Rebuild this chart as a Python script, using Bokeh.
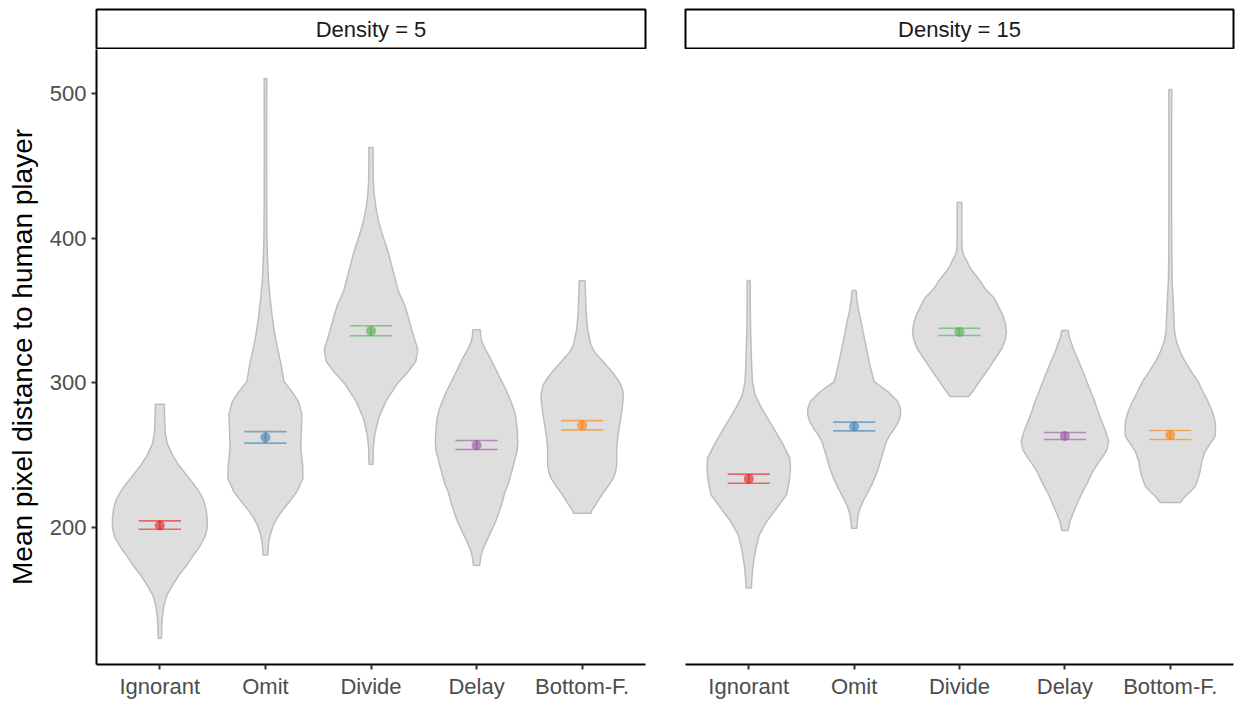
from bokeh.plotting import figure
from bokeh.models import Range1d, FixedTicker, ColumnDataSource
from bokeh.layouts import row, column
from bokeh.embed import file_html
from bokeh.resources import INLINE
from bokeh.core.properties import value

# ---------------- data ----------------
categories = ["Ignorant", "Omit", "Divide", "Delay", "Bottom-F."]
panel_labels = ["Density = 5", "Density = 15"]
colors = ["#E41A1C", "#377EB8", "#4DAF4A", "#984EA3", "#FF7F00"]
y_ticks = [200, 300, 400, 500]
y_title = "Mean pixel distance to human player"

# Violin outlines: values (top -> bottom) and half widths (category units)
d5_ignorant_v = [285.2, 275, 265, 258, 250, 243, 237, 231, 225, 219, 212, 205, 199, 193, 186, 180, 173, 167, 160, 153, 145, 137, 130, 123.5]
d5_ignorant_w = [0.042, 0.045, 0.052, 0.07, 0.12, 0.18, 0.245, 0.31, 0.37, 0.415, 0.44, 0.45, 0.447, 0.425, 0.37, 0.31, 0.245, 0.18, 0.12, 0.065, 0.035, 0.022, 0.018, 0.016]
d5_omit_v = [510.3, 480, 450, 420, 400, 385, 370, 358, 345, 333, 322, 312, 301, 294, 287, 278, 266, 255, 243, 234, 225, 219, 213, 207, 202, 196, 190, 181]
d5_omit_w = [0.012, 0.011, 0.011, 0.012, 0.014, 0.02, 0.03, 0.045, 0.065, 0.09, 0.12, 0.15, 0.175, 0.25, 0.314, 0.346, 0.34, 0.335, 0.352, 0.356, 0.3, 0.24, 0.173, 0.115, 0.078, 0.05, 0.031, 0.022]
d5_divide_v = [462.6, 450, 440, 430, 422, 412, 402, 391, 377, 363, 354, 345, 333, 323, 315, 308, 299, 287, 275.5, 264, 255, 243.7]
d5_divide_w = [0.02, 0.02, 0.022, 0.03, 0.045, 0.07, 0.11, 0.16, 0.21, 0.26, 0.318, 0.355, 0.40, 0.443, 0.425, 0.355, 0.245, 0.14, 0.072, 0.035, 0.022, 0.019]
d5_delay_v = [336.6, 332, 328.5, 323, 317, 311, 305.5, 300, 294, 288, 282.4, 277, 271, 265, 259.4, 253, 247.9, 242, 236.4, 230, 224.9, 218, 211, 204, 197, 190, 184, 179, 173.7]
d5_delay_w = [0.035, 0.04, 0.05, 0.085, 0.13, 0.17, 0.207, 0.245, 0.286, 0.32, 0.35, 0.37, 0.38, 0.387, 0.39, 0.385, 0.365, 0.345, 0.324, 0.30, 0.27, 0.245, 0.215, 0.18, 0.135, 0.09, 0.055, 0.038, 0.03]
d5_bottomf_v = [370.5, 360, 349.3, 337.7, 326.3, 321, 317, 312, 307.8, 303, 298.6, 294, 289.4, 280.2, 268.6, 261, 254.8, 243.3, 238, 234.1, 228, 222.6, 216, 211.1, 209.9]
d5_bottomf_w = [0.028, 0.032, 0.038, 0.05, 0.082, 0.12, 0.17, 0.23, 0.28, 0.33, 0.368, 0.385, 0.39, 0.375, 0.35, 0.335, 0.327, 0.327, 0.315, 0.295, 0.24, 0.186, 0.13, 0.085, 0.085]

d15_ignorant_v = [370.7, 350, 335, 318, 307.8, 300.9, 291.7, 282.4, 271, 259.4, 247.9, 241, 236, 231.8, 222.6, 213.3, 204.1, 194.9, 185.7, 178, 171.9, 165, 158.1]
d15_ignorant_w = [0.014, 0.015, 0.018, 0.025, 0.03, 0.035, 0.06, 0.123, 0.217, 0.311, 0.39, 0.396, 0.39, 0.384, 0.358, 0.264, 0.17, 0.10, 0.069, 0.05, 0.038, 0.03, 0.025]
d15_omit_v = [363.8, 356.2, 349, 342.4, 335, 328.5, 321, 314.7, 307.8, 300.9, 294, 287.1, 282, 277.9, 273, 268.6, 264, 259.4, 247.9, 241, 234.1, 227, 220.2, 214, 208.8, 204, 199.5]
d15_omit_w = [0.019, 0.028, 0.045, 0.066, 0.085, 0.104, 0.125, 0.142, 0.165, 0.189, 0.32, 0.415, 0.44, 0.44, 0.42, 0.384, 0.34, 0.305, 0.258, 0.23, 0.195, 0.15, 0.10, 0.06, 0.038, 0.03, 0.025]
d15_divide_v = [424.6, 410, 400, 393, 389, 386.1, 381, 376.9, 370, 365.4, 358.5, 352, 347, 341, 335.5, 330, 323.9, 318, 312.4, 306, 300.9, 295, 290.5]
d15_divide_w = [0.022, 0.022, 0.022, 0.024, 0.035, 0.057, 0.09, 0.126, 0.2, 0.24, 0.33, 0.375, 0.409, 0.435, 0.446, 0.435, 0.403, 0.35, 0.299, 0.24, 0.189, 0.135, 0.088]
d15_delay_v = [336.1, 332, 328.5, 321, 314.7, 308, 300.9, 294, 287.1, 280, 273.3, 266, 259.4, 254, 249, 244, 238.7, 231, 224.9, 218, 211, 204.1, 198]
d15_delay_w = [0.03, 0.04, 0.057, 0.095, 0.132, 0.17, 0.208, 0.245, 0.283, 0.315, 0.35, 0.39, 0.415, 0.4, 0.36, 0.31, 0.264, 0.215, 0.17, 0.125, 0.085, 0.047, 0.03]
d15_bottomf_v = [502.7, 480, 450, 420, 390, 370, 356, 345, 335.5, 328, 321.6, 316, 311.3, 306, 300.9, 294, 287.1, 280, 273.3, 268, 262.9, 257, 252.5, 246, 238.7, 233, 228.3, 224, 221.4, 217.3]
d15_bottomf_w = [0.014, 0.013, 0.013, 0.013, 0.014, 0.018, 0.028, 0.035, 0.04, 0.06, 0.094, 0.13, 0.17, 0.215, 0.264, 0.31, 0.358, 0.4, 0.425, 0.43, 0.425, 0.37, 0.33, 0.3, 0.283, 0.26, 0.236, 0.18, 0.14, 0.094]

# Means and confidence intervals
d5_mean = [201.4, 262.2, 335.9, 256.9, 270.7]
d5_lo = [198.8, 258.3, 332.5, 253.9, 267.5]
d5_hi = [204.6, 266.3, 339.4, 260.1, 273.9]
d15_mean = [233.6, 269.8, 335.2, 263.2, 263.9]
d15_lo = [230.6, 266.8, 332.7, 260.8, 260.8]
d15_hi = [236.9, 272.8, 337.7, 265.7, 267.0]

d5_profiles = [(d5_ignorant_v, d5_ignorant_w), (d5_omit_v, d5_omit_w), (d5_divide_v, d5_divide_w),
               (d5_delay_v, d5_delay_w), (d5_bottomf_v, d5_bottomf_w)]
d15_profiles = [(d15_ignorant_v, d15_ignorant_w), (d15_omit_v, d15_omit_w), (d15_divide_v, d15_divide_w),
                (d15_delay_v, d15_delay_w), (d15_bottomf_v, d15_bottomf_w)]

# ---------------- layout constants ----------------
Y_RANGE = (105.3, 530.4)
FRAME_W = 549
FONT = "Liberation Sans"


def make_panel(label, profiles, means, lo, hi, left_border, right_border, frame_w, show_y):
    width = left_border + frame_w + right_border
    # strip
    s = figure(width=width, height=49, output_backend="svg", toolbar_location=None,
               x_range=Range1d(0, 1), y_range=Range1d(0, 1),
               x_axis_location=None, y_axis_location=None,
               min_border_left=left_border, min_border_right=right_border,
               min_border_top=9, min_border_bottom=1)
    s.grid.visible = False
    s.outline_line_color = "black"
    s.outline_line_width = 2
    s.background_fill_color = "white"
    s.text(x=[0.5], y=[0.5], text=[label], text_align="center", text_baseline="middle",
           text_font=value(FONT), text_font_size="22px", text_color="#1A1A1A")

    p = figure(width=width, height=652, output_backend="svg", toolbar_location=None,
               x_range=Range1d(0.4, 5.6), y_range=Range1d(*Y_RANGE),
               y_axis_location="left" if show_y else None,
               min_border_left=left_border, min_border_right=right_border,
               min_border_top=0, min_border_bottom=30)
    p.grid.visible = False
    p.outline_line_color = None

    xs, ys = [], []
    for i, (vals, ws) in enumerate(profiles):
        c = i + 1
        xs.append([c - w for w in ws] + [c + w for w in reversed(ws)])
        ys.append(list(vals) + list(reversed(vals)))
    p.patches(xs="xs", ys="ys", source=ColumnDataSource(dict(xs=xs, ys=ys)),
              fill_color="#DEDEDE", line_color="#BDBDBD", line_width=1.5)

    pos = [i + 1 for i in range(len(categories))]
    src = ColumnDataSource(dict(x=pos, x0=[c - 0.2 for c in pos], x1=[c + 0.2 for c in pos],
                                m=means, lo=lo, hi=hi, color=colors))
    p.segment(x0="x0", x1="x1", y0="lo", y1="lo", source=src, line_color="color", line_width=1.6, line_alpha=0.6)
    p.segment(x0="x0", x1="x1", y0="hi", y1="hi", source=src, line_color="color", line_width=1.6, line_alpha=0.6)
    p.segment(x0="x", x1="x", y0="lo", y1="hi", source=src, line_color="color", line_width=1.6, line_alpha=0.6)
    p.scatter(x="x", y="m", source=src, size=10, fill_color="color", fill_alpha=0.6, line_color=None)

    xa = p.xaxis[0]
    xa.ticker = FixedTicker(ticks=pos)
    xa.major_label_overrides = {c: categories[c - 1] for c in pos}
    for ax in p.axis:
        ax.axis_line_color = "black"
        ax.axis_line_width = 2
        ax.major_tick_line_color = "#333333"
        ax.major_tick_line_width = 2
        ax.major_tick_out = 5
        ax.major_tick_in = 0
        ax.minor_tick_out = 0
        ax.minor_tick_in = 0
        ax.major_label_text_font = FONT
        ax.major_label_text_font_size = "22px"
        ax.major_label_text_color = "#4D4D4D"
        ax.major_label_standoff = 4
    if show_y:
        ya = p.yaxis[0]
        ya.ticker = FixedTicker(ticks=y_ticks)
        ya.axis_label = y_title
        ya.axis_label_text_font = FONT
        ya.axis_label_text_font_size = "28px"
        ya.axis_label_text_font_style = "normal"
        ya.axis_label_text_color = "black"
        ya.axis_label_standoff = 9
        ya.major_label_standoff = 5
    return column(s, p)


left = make_panel(panel_labels[0], d5_profiles, d5_mean, d5_lo, d5_hi, 96, 2, 549, True)
right = make_panel(panel_labels[1], d15_profiles, d15_mean, d15_lo, d15_hi, 38, 3, 548, False)
layout = row(left, right)

open("out.html", "w").write(file_html(layout, INLINE))
